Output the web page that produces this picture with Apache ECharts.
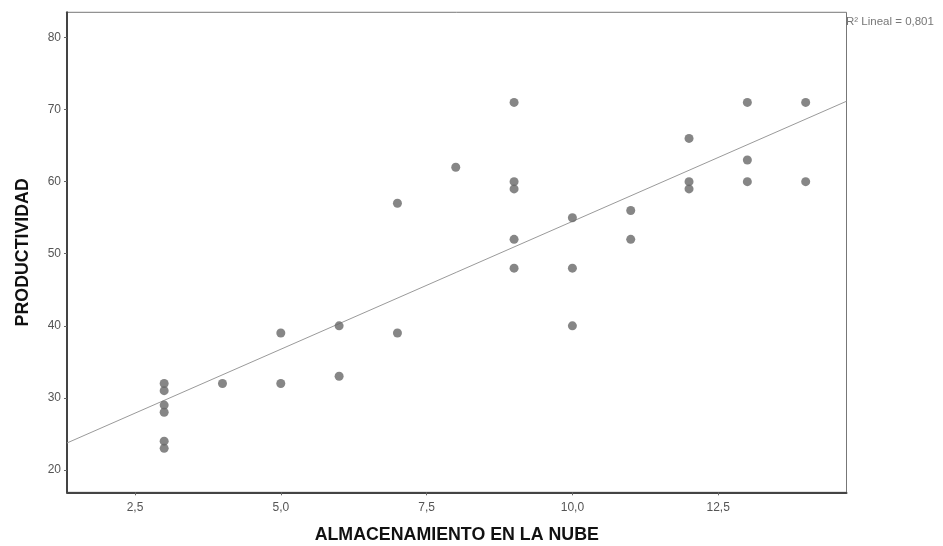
<!DOCTYPE html>
<html><head><meta charset="utf-8">
<script src="https://cdn.jsdelivr.net/npm/echarts@6/dist/echarts.min.js"></script>
<style>html,body{margin:0;padding:0;background:#fff}#c{width:943px;height:546px}</style>
</head><body><div id="c"></div>
<script>
// Data
const almacenamiento = [3,3,3,3,3,3, 4, 5,5, 6,6, 7,7, 8, 9,9,9,9,9, 10,10,10, 11,11, 12,12,12, 13,13,13, 14,14];
const productividad  = [32,31,29,28,24,23, 32, 39,32, 40,33, 57,39, 62, 71,60,59,52,48, 55,48,40, 56,52, 66,60,59, 71,63,60, 71,60];
const xTicks = [2.5, 5, 7.5, 10, 12.5];
const yTicks = [20, 30, 40, 50, 60, 70, 80];
const xTitle = 'ALMACENAMIENTO EN LA NUBE';
const yTitle = 'PRODUCTIVIDAD';
const r2Label = 'R² Lineal = 0,801';

const X_MIN = 1.334, X_MAX = 14.70, Y_MIN = 16.9, Y_MAX = 83.5;

// least-squares fit from the data
const n = almacenamiento.length;
const mx = almacenamiento.reduce((a,b)=>a+b,0)/n;
const my = productividad.reduce((a,b)=>a+b,0)/n;
let sxy=0, sxx=0;
for (let i=0;i<n;i++){ sxy += (almacenamiento[i]-mx)*(productividad[i]-my); sxx += (almacenamiento[i]-mx)**2; }
const slope = sxy/sxx, intercept = my - slope*mx;
const fitLine = [[X_MIN, intercept+slope*X_MIN],[X_MAX, intercept+slope*X_MAX]];

const pts = almacenamiento.map((x,i)=>[x, productividad[i]]);
const font = '"Liberation Sans", Arial, sans-serif';

const chart = echarts.init(document.getElementById('c'), null, {renderer:'canvas'});
chart.setOption({
  animation:false,
  backgroundColor:'#fff',
  grid:{left:67, right:96.5, top:12.3, bottom:53.7, show:true, borderColor:'#777', borderWidth:1, containLabel:false, outerBoundsMode:'none'},
  xAxis:{
    type:'value', min:X_MIN, max:X_MAX,
    name:xTitle, nameLocation:'middle', nameGap:34,
    nameTextStyle:{fontFamily:font, fontSize:17.8, fontWeight:'bold', color:'#111'},
    axisLine:{show:true, onZero:false, lineStyle:{color:'#444', width:2}},
    axisTick:{show:true, length:3, customValues:xTicks, lineStyle:{color:'#666'}},
    axisLabel:{customValues:xTicks, fontFamily:font, fontSize:12, color:'#555', margin:9,
      formatter:v=>v.toFixed(1).replace('.',',')},
    splitLine:{show:false}
  },
  yAxis:{
    type:'value', min:Y_MIN, max:Y_MAX,
    name:yTitle, nameLocation:'middle', nameGap:35,
    nameTextStyle:{fontFamily:font, fontSize:17.8, fontWeight:'bold', color:'#111'},
    axisLine:{show:true, onZero:false, lineStyle:{color:'#444', width:2}},
    axisTick:{show:true, length:3, customValues:yTicks, lineStyle:{color:'#666'}},
    axisLabel:{customValues:yTicks, fontFamily:font, fontSize:12, color:'#555', margin:6},
    splitLine:{show:false}
  },
  graphic:[{type:'text', left:846, top:16, style:{text:r2Label, fontFamily:font, fontSize:11.5, fill:'#777'}}],
  series:[
    {type:'line', data:fitLine, symbol:'none', clip:true, lineStyle:{color:'#9a9a9a', width:1}, z:2},
    {type:'scatter', data:pts, symbol:'circle', symbolSize:9, itemStyle:{color:'#686868'}, z:3}
  ]
});
</script></body></html>
